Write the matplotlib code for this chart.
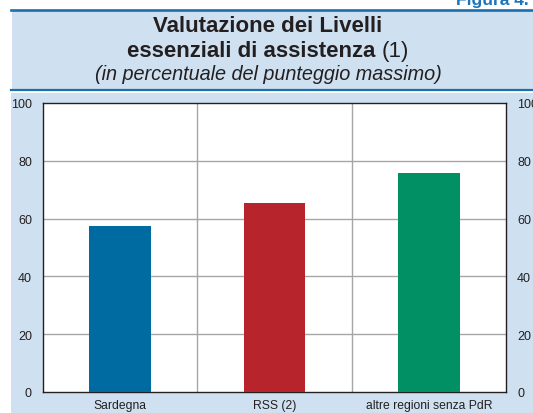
import matplotlib
matplotlib.use("Agg")
import matplotlib.pyplot as plt
from matplotlib.patches import Rectangle
from matplotlib.lines import Line2D

categories = ["Sardegna", "RSS (2)", "altre regioni senza PdR"]
values = [57.5, 65.5, 75.8]
bar_colors = ["#006ba1", "#b8242c", "#009064"]
yticks = [0, 20, 40, 60, 80, 100]

W, H = 533, 414
DPI = 100
plt.rcParams["font.family"] = ["Liberation Sans", "DejaVu Sans"]

fig = plt.figure(figsize=(W / DPI, H / DPI), dpi=DPI)
fig.patch.set_facecolor("white")

def fx(px):
    return px / W

def fy(py):
    return 1 - py / H

panel_bg = "#cfe1f1"
rule_blue = "#1a6fae"
ink = "#231f20"

# header panel and chart panel backgrounds
fig.add_artist(Rectangle((fx(12), fy(90)), fx(W - 12), 78 / H, transform=fig.transFigure,
                         facecolor=panel_bg, edgecolor="none", zorder=0))
fig.add_artist(Rectangle((fx(11), 0), fx(W - 11), fy(94), transform=fig.transFigure,
                         facecolor=panel_bg, edgecolor="none", zorder=0))
# blue rules
fig.add_artist(Line2D([fx(11), 1], [fy(10.5), fy(10.5)], transform=fig.transFigure,
                      color=rule_blue, lw=1.9, zorder=1))
fig.add_artist(Line2D([fx(11), 1], [fy(91.2), fy(91.2)], transform=fig.transFigure,
                      color=rule_blue, lw=1.6, zorder=1))

# figure number, clipped at the top edge
fig.text(fx(529), fy(5.5), "Figura 4.", ha="right", va="baseline", fontsize=12.5,
         fontweight="bold", color="#1a75bc")

cx = fx(268)
fig.text(cx, fy(32.5), "Valutazione dei Livelli", ha="center", va="baseline",
         fontsize=16, fontweight="bold", color=ink)

# second title line: bold text followed by a regular "(1)"
renderer = fig.canvas.get_renderer()
t_bold = fig.text(0, fy(56.7), "essenziali di assistenza ", ha="left", va="baseline",
                  fontsize=16, fontweight="bold", color=ink)
t_note = fig.text(0, fy(56.7), "(1)", ha="left", va="baseline",
                  fontsize=16, color=ink)
wb = t_bold.get_window_extent(renderer).width
wn = t_note.get_window_extent(renderer).width
start = 268 - (wb + wn) / 2
t_bold.set_x(fx(start))
t_note.set_x(fx(start + wb))

fig.text(cx, fy(80.5), "(in percentuale del punteggio massimo)", ha="center",
         va="baseline", fontsize=14.3, fontstyle="italic", color=ink)

# chart
ax = fig.add_axes([fx(43), fy(393), fx(506) - fx(43), (393 - 104) / H])
ax.set_facecolor("white")
x = list(range(len(categories)))
ax.bar(x, values, width=0.4, color=bar_colors, zorder=3)
ax.set_xlim(-0.5, len(categories) - 0.5)
ax.set_ylim(0, 100)
ax.set_yticks(yticks)
ax.set_xticks(x)
ax.set_xticklabels(categories)

for y in yticks[1:-1]:
    ax.axhline(y, color="#a6a6a6", lw=1.0, zorder=1)
for b in [0.5, 1.5]:
    ax.axvline(b, color="#a6a6a6", lw=1.0, zorder=1)

for s in ax.spines.values():
    s.set_color(ink)
    s.set_linewidth(1.0)

ax.tick_params(axis="both", length=0, colors=ink)
ax.tick_params(axis="y", pad=8, labelsize=9, labelright=True, labelleft=True)
ax.tick_params(axis="x", pad=5, labelsize=8.7)

fig.savefig("out.png", dpi=DPI, facecolor=fig.get_facecolor())
